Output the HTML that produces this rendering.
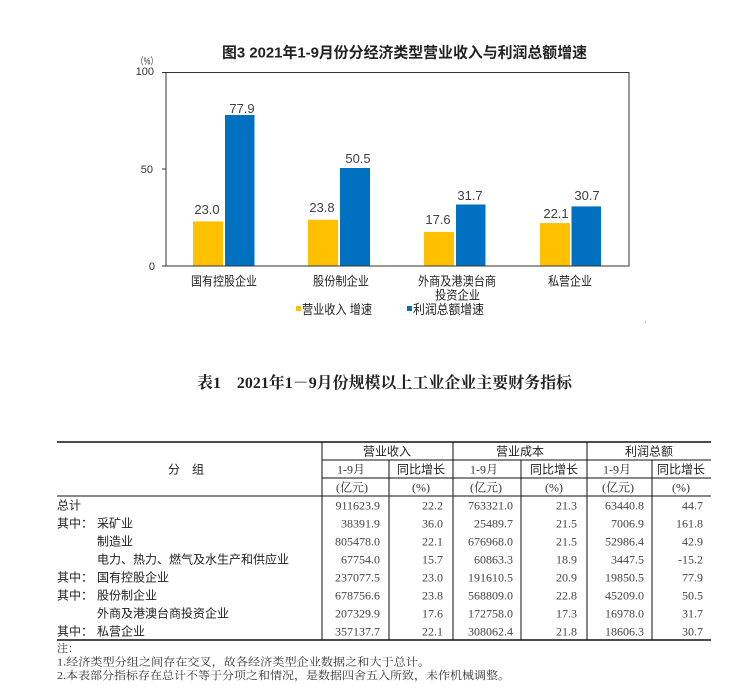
<!DOCTYPE html>
<html>
<head>
<meta charset="utf-8">
<style>
  html,body{margin:0;padding:0;background:#fff;}
  body{width:753px;height:696px;overflow:hidden;}
  svg{display:block;}
  .sans{font-family:"Liberation Sans","Noto Sans CJK SC",sans-serif;}
  .serif{font-family:"Liberation Serif","Noto Serif CJK SC",serif;}
</style>
</head>
<body>
<svg width="753" height="696" viewBox="0 0 753 696" xmlns="http://www.w3.org/2000/svg">
  <rect x="0" y="0" width="753" height="696" fill="#fff"/>

  <!-- ===== Chart ===== -->
  <text class="sans" x="222" y="57.5" font-size="15" font-weight="bold" fill="#222" textLength="365" lengthAdjust="spacingAndGlyphs">图3  2021年1-9月份分经济类型营业收入与利润总额增速</text>

  <text class="sans" x="136" y="64.5" font-size="10" fill="#333" textLength="22" lengthAdjust="spacingAndGlyphs">（%）</text>
  <text class="sans" x="154" y="75" font-size="11" fill="#333" text-anchor="end">100</text>
  <text class="sans" x="153" y="173" font-size="11" fill="#333" text-anchor="end">50</text>
  <text class="sans" x="155" y="270" font-size="11" fill="#333" text-anchor="end">0</text>

  <!-- plot frame -->
  <rect x="166" y="72.5" width="463" height="193.5" fill="none" stroke="#333" stroke-width="1"/>
  <line x1="162" y1="72.5" x2="166" y2="72.5" stroke="#333" stroke-width="1"/>
  <line x1="162" y1="169" x2="166" y2="169" stroke="#333" stroke-width="1"/>
  <line x1="162" y1="266" x2="166" y2="266" stroke="#333" stroke-width="1"/>

  <!-- bars -->
  <rect x="193" y="221.4" width="30" height="44.6" fill="#FFC000"/>
  <rect x="225" y="115" width="29.5" height="151" fill="#0070C0"/>
  <rect x="308" y="219.8" width="30" height="46.2" fill="#FFC000"/>
  <rect x="340" y="168" width="30" height="98" fill="#0070C0"/>
  <rect x="424" y="231.9" width="30" height="34.1" fill="#FFC000"/>
  <rect x="456" y="204.5" width="29.5" height="61.5" fill="#0070C0"/>
  <rect x="540" y="223.1" width="30" height="42.9" fill="#FFC000"/>
  <rect x="571.5" y="206.4" width="29.5" height="59.6" fill="#0070C0"/>
  <line x1="166" y1="266" x2="629" y2="266" stroke="#333" stroke-width="1"/>

  <!-- value labels -->
  <g class="sans" font-size="13" fill="#404040" text-anchor="middle">
    <text x="207" y="214">23.0</text>
    <text x="242" y="113">77.9</text>
    <text x="322" y="212">23.8</text>
    <text x="358" y="163">50.5</text>
    <text x="438" y="224">17.6</text>
    <text x="470" y="200">31.7</text>
    <text x="556" y="218">22.1</text>
    <text x="587" y="200">30.7</text>
  </g>

  <!-- category labels -->
  <g class="sans" font-size="12.5" fill="#222">
    <text x="191" y="285.5" textLength="66" lengthAdjust="spacingAndGlyphs">国有控股企业</text>
    <text x="313" y="285.5" textLength="56" lengthAdjust="spacingAndGlyphs">股份制企业</text>
    <text x="418" y="285.5" textLength="78" lengthAdjust="spacingAndGlyphs">外商及港澳台商</text>
    <text x="435" y="299.5" textLength="45" lengthAdjust="spacingAndGlyphs">投资企业</text>
    <text x="548" y="285.5" textLength="44" lengthAdjust="spacingAndGlyphs">私营企业</text>
  </g>

  <!-- legend -->
  <rect x="296" y="306" width="5" height="5" fill="#FFC000"/>
  <text class="sans" x="302" y="314" font-size="13" fill="#222" textLength="70" lengthAdjust="spacingAndGlyphs">营业收入 增速</text>
  <rect x="407" y="306" width="5" height="5" fill="#0070C0"/>
  <text class="sans" x="413" y="314" font-size="13" fill="#222" textLength="71" lengthAdjust="spacingAndGlyphs">利润总额增速</text>
  <rect x="645" y="321" width="1" height="2" fill="#bbb"/>

  <!-- ===== Table title ===== -->
  <text class="serif" x="197" y="388" font-size="16" font-weight="bold" fill="#222" textLength="375" lengthAdjust="spacingAndGlyphs">表1　2021年1－9月份规模以上工业企业主要财务指标</text>

  <!-- ===== Table lines ===== -->
  <g stroke="#111">
    <line x1="57" y1="442" x2="711" y2="442" stroke-width="1.5"/>
    <line x1="322" y1="460" x2="711" y2="460" stroke-width="1"/>
    <line x1="322" y1="478" x2="711" y2="478" stroke-width="1"/>
    <line x1="57" y1="496" x2="711" y2="496" stroke-width="1"/>
    <line x1="57" y1="640" x2="711" y2="640" stroke-width="1.5"/>
    <line x1="322" y1="442" x2="322" y2="640" stroke-width="1"/>
    <line x1="453" y1="442" x2="453" y2="640" stroke-width="1"/>
    <line x1="587" y1="442" x2="587" y2="640" stroke-width="1"/>
    <line x1="389" y1="460" x2="389" y2="640" stroke-width="1"/>
    <line x1="521" y1="460" x2="521" y2="640" stroke-width="1"/>
    <line x1="652" y1="460" x2="652" y2="640" stroke-width="1"/>
  </g>

  <!-- header text -->
  <g class="sans" font-size="12" fill="#222" text-anchor="middle">
    <text x="186" y="473.5">分　组</text>
    <text x="387" y="455.5">营业收入</text>
    <text x="520" y="455.5">营业成本</text>
    <text x="649" y="455.5">利润总额</text>
    <text x="421" y="473.5">同比增长</text>
    <text x="554" y="473.5">同比增长</text>
    <text x="681" y="473.5">同比增长</text>
  </g>
  <g class="serif" font-size="12" fill="#333" text-anchor="middle">
    <text x="351" y="473.5">1-9月</text>
    <text x="484" y="473.5">1-9月</text>
    <text x="617" y="473.5">1-9月</text>
    <text x="352" y="491.5">(亿元)</text>
    <text x="421" y="491.5">(%)</text>
    <text x="486" y="491.5">(亿元)</text>
    <text x="554" y="491.5">(%)</text>
    <text x="618" y="491.5">(亿元)</text>
    <text x="681" y="491.5">(%)</text>
  </g>

  <!-- row labels -->
  <g class="sans" font-size="12" fill="#222">
    <text x="57" y="509.5">总计</text>
    <text x="57" y="527.5">其中：</text><text x="97" y="527.5">采矿业</text>
    <text x="97" y="545.5">制造业</text>
    <text x="97" y="563.5" textLength="192" lengthAdjust="spacingAndGlyphs">电力、热力、燃气及水生产和供应业</text>
    <text x="57" y="581.5">其中：</text><text x="97" y="581.5">国有控股企业</text>
    <text x="57" y="599.5">其中：</text><text x="97" y="599.5">股份制企业</text>
    <text x="97" y="617.5">外商及港澳台商投资企业</text>
    <text x="57" y="635.5">其中：</text><text x="97" y="635.5">私营企业</text>
  </g>

  <!-- numbers -->
  <g class="serif" font-size="12" fill="#444" text-anchor="end">
    <text x="380" y="509.5">911623.9</text><text x="443" y="509.5">22.2</text><text x="513" y="509.5">763321.0</text><text x="577" y="509.5">21.3</text><text x="644" y="509.5">63440.8</text><text x="703" y="509.5">44.7</text>
    <text x="380" y="527.5">38391.9</text><text x="443" y="527.5">36.0</text><text x="513" y="527.5">25489.7</text><text x="577" y="527.5">21.5</text><text x="644" y="527.5">7006.9</text><text x="703" y="527.5">161.8</text>
    <text x="380" y="545.5">805478.0</text><text x="443" y="545.5">22.1</text><text x="513" y="545.5">676968.0</text><text x="577" y="545.5">21.5</text><text x="644" y="545.5">52986.4</text><text x="703" y="545.5">42.9</text>
    <text x="380" y="563.5">67754.0</text><text x="443" y="563.5">15.7</text><text x="513" y="563.5">60863.3</text><text x="577" y="563.5">18.9</text><text x="644" y="563.5">3447.5</text><text x="703" y="563.5">-15.2</text>
    <text x="380" y="581.5">237077.5</text><text x="443" y="581.5">23.0</text><text x="513" y="581.5">191610.5</text><text x="577" y="581.5">20.9</text><text x="644" y="581.5">19850.5</text><text x="703" y="581.5">77.9</text>
    <text x="380" y="599.5">678756.6</text><text x="443" y="599.5">23.8</text><text x="513" y="599.5">568809.0</text><text x="577" y="599.5">22.8</text><text x="644" y="599.5">45209.0</text><text x="703" y="599.5">50.5</text>
    <text x="380" y="617.5">207329.9</text><text x="443" y="617.5">17.6</text><text x="513" y="617.5">172758.0</text><text x="577" y="617.5">17.3</text><text x="644" y="617.5">16978.0</text><text x="703" y="617.5">31.7</text>
    <text x="380" y="635.5">357137.7</text><text x="443" y="635.5">22.1</text><text x="513" y="635.5">308062.4</text><text x="577" y="635.5">21.8</text><text x="644" y="635.5">18606.3</text><text x="703" y="635.5">30.7</text>
  </g>

  <!-- notes -->
  <g class="serif" font-size="11" fill="#333">
    <text x="57" y="652">注：</text>
    <text x="57" y="665.5" textLength="373" lengthAdjust="spacingAndGlyphs">1.经济类型分组之间存在交叉，故各经济类型企业数据之和大于总计。</text>
    <text x="57" y="679" textLength="453" lengthAdjust="spacingAndGlyphs">2.本表部分指标存在总计不等于分项之和情况，是数据四舍五入所致，未作机械调整。</text>
  </g>
</svg>
</body>
</html>
